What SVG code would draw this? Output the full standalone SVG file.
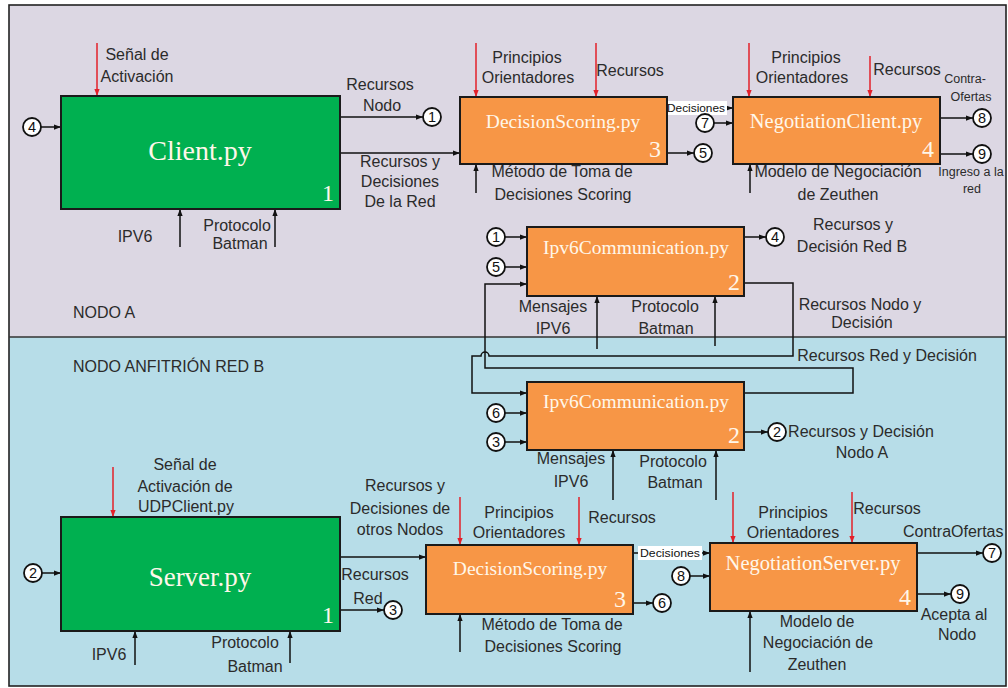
<svg xmlns="http://www.w3.org/2000/svg" width="1008" height="688" viewBox="0 0 1008 688">
  <defs>
    <style>
      .lbl { font-family: "Liberation Sans", Arial, sans-serif; font-size: 16px; fill: #2b2b2b; }
      .mid { text-anchor: middle; }
      .sm { font-size: 12.5px; }
      .title { font-family: "Liberation Serif", "Times New Roman", serif; fill: #FFF7EA; text-anchor: middle; }
      .num { font-family: "Liberation Serif", "Times New Roman", serif; font-size: 24px; fill: #FFF7EA; text-anchor: end; }
      .box { stroke: #1a1a1a; stroke-width: 2; }
      .green { fill: #00B050; }
      .orange { fill: #F79646; }
      .wire { stroke: #111; stroke-width: 1.5; fill: none; }
      .red { stroke: #E3202A; stroke-width: 1.5; fill: none; }
      .ref circle { fill: #fff; stroke: #111; stroke-width: 1.8; }
      .ref text { font-family: "Liberation Sans", Arial, sans-serif; font-size: 14.5px; fill: #111; text-anchor: middle; }
      .tag { fill: #fff; }
      .tagtxt { font-family: "Liberation Sans", Arial, sans-serif; font-size: 11px; fill: #111; }
    </style>
    <marker id="ah" viewBox="0 0 8 8" refX="8" refY="4" markerWidth="7" markerHeight="7" orient="auto" markerUnits="userSpaceOnUse">
      <path d="M0,1 L8,4 L0,7 z" fill="#111"/>
    </marker>
    <marker id="ahr" viewBox="0 0 8 8" refX="8" refY="4" markerWidth="7" markerHeight="7" orient="auto" markerUnits="userSpaceOnUse">
      <path d="M0,1 L8,4 L0,7 z" fill="#E3202A"/>
    </marker>
  </defs>

  <!-- two swimlanes -->
  <g id="lanes">
    <rect x="0" y="0" width="1008" height="688" fill="#fff"/>
    <rect x="9" y="5" width="997" height="332" fill="#DCD7E3"/>
    <rect x="9" y="337" width="997" height="349" fill="#B7DDE8"/>
    <rect x="9" y="5" width="997" height="681" fill="none" stroke="#222" stroke-width="1.6"/>
    <line x1="9" y1="337" x2="1006" y2="337" stroke="#333" stroke-width="1.6"/>
    <text class="lbl" x="73" y="318">NODO A</text>
    <text class="lbl" x="73" y="372">NODO ANFITRIÓN RED B</text>
  </g>

  <!-- connectors -->
  <g id="connectors">
    <!-- Node A -->
    <line class="red" x1="97" y1="43" x2="97" y2="96" marker-end="url(#ahr)"/>
    <line class="wire" x1="41" y1="127" x2="61" y2="127" marker-end="url(#ah)"/>
    <line class="wire" x1="340" y1="117" x2="423" y2="117" marker-end="url(#ah)"/>
    <line class="wire" x1="340" y1="153" x2="460" y2="153" marker-end="url(#ah)"/>
    <line class="wire" x1="180" y1="247" x2="180" y2="209" marker-end="url(#ah)"/>
    <line class="wire" x1="275" y1="247" x2="275" y2="209" marker-end="url(#ah)"/>
    <line class="red" x1="476" y1="43" x2="476" y2="97" marker-end="url(#ahr)"/>
    <line class="red" x1="596" y1="43" x2="596" y2="97" marker-end="url(#ahr)"/>
    <line class="wire" x1="476" y1="193" x2="476" y2="164" marker-end="url(#ah)"/>
    <line class="wire" x1="667" y1="108" x2="733" y2="108" marker-end="url(#ah)"/>
    <line class="wire" x1="714" y1="123" x2="733" y2="123" marker-end="url(#ah)"/>
    <line class="wire" x1="667" y1="153" x2="694" y2="153" marker-end="url(#ah)"/>
    <line class="red" x1="749" y1="43" x2="749" y2="97" marker-end="url(#ahr)"/>
    <line class="red" x1="870" y1="56" x2="870" y2="97" marker-end="url(#ahr)"/>
    <line class="wire" x1="940" y1="118" x2="973" y2="118" marker-end="url(#ah)"/>
    <line class="wire" x1="940" y1="154" x2="973" y2="154" marker-end="url(#ah)"/>
    <line class="wire" x1="750" y1="193" x2="750" y2="164" marker-end="url(#ah)"/>
    <line class="wire" x1="505" y1="237" x2="527" y2="237" marker-end="url(#ah)"/>
    <line class="wire" x1="505" y1="267" x2="527" y2="267" marker-end="url(#ah)"/>
    <line class="wire" x1="744" y1="237" x2="766" y2="237" marker-end="url(#ah)"/>
    <line class="wire" x1="597" y1="349" x2="597" y2="296" marker-end="url(#ah)"/>
    <line class="wire" x1="715" y1="346" x2="715" y2="296" marker-end="url(#ah)"/>

    <!-- exchange loops between both Ipv6Communication blocks -->
    <path class="wire" d="M744,283 H793 V356 H489 A4,4 0 0 0 481,356 H472 V393 H527" marker-end="url(#ah)"/>
    <path class="wire" d="M744,393 H853 V368 H485 V284 H527" marker-end="url(#ah)"/>

    <!-- Node B -->
    <line class="wire" x1="505" y1="413" x2="527" y2="413" marker-end="url(#ah)"/>
    <line class="wire" x1="505" y1="442" x2="527" y2="442" marker-end="url(#ah)"/>
    <line class="wire" x1="744" y1="432" x2="768" y2="432" marker-end="url(#ah)"/>
    <line class="wire" x1="613" y1="500" x2="613" y2="450" marker-end="url(#ah)"/>
    <line class="wire" x1="716" y1="500" x2="716" y2="450" marker-end="url(#ah)"/>
    <line class="red" x1="113" y1="467" x2="113" y2="517" marker-end="url(#ahr)"/>
    <line class="wire" x1="42" y1="573" x2="61" y2="573" marker-end="url(#ah)"/>
    <line class="wire" x1="340" y1="557" x2="426" y2="557" marker-end="url(#ah)"/>
    <line class="wire" x1="340" y1="610" x2="384" y2="610" marker-end="url(#ah)"/>
    <line class="wire" x1="135" y1="665" x2="135" y2="631" marker-end="url(#ah)"/>
    <line class="wire" x1="290" y1="663" x2="290" y2="631" marker-end="url(#ah)"/>
    <line class="red" x1="460" y1="497" x2="460" y2="545" marker-end="url(#ahr)"/>
    <line class="red" x1="579" y1="497" x2="579" y2="545" marker-end="url(#ahr)"/>
    <line class="wire" x1="633" y1="553" x2="710" y2="553" marker-end="url(#ah)"/>
    <line class="wire" x1="690" y1="576" x2="710" y2="576" marker-end="url(#ah)"/>
    <line class="wire" x1="633" y1="603" x2="653" y2="603" marker-end="url(#ah)"/>
    <line class="wire" x1="460" y1="652" x2="460" y2="614" marker-end="url(#ah)"/>
    <line class="red" x1="733" y1="492" x2="733" y2="543" marker-end="url(#ahr)"/>
    <line class="red" x1="852" y1="492" x2="852" y2="543" marker-end="url(#ahr)"/>
    <line class="wire" x1="917" y1="553" x2="983" y2="553" marker-end="url(#ah)"/>
    <line class="wire" x1="917" y1="594" x2="951" y2="594" marker-end="url(#ah)"/>
    <line class="wire" x1="750" y1="672" x2="750" y2="611" marker-end="url(#ah)"/>

    <!-- "Decisiones" tags sitting on their arrows -->
    <rect class="tag" x="665" y="101" width="62" height="14"/>
    <text class="tagtxt" x="667" y="112" textLength="58" lengthAdjust="spacingAndGlyphs">Decisiones</text>
    <rect class="tag" x="638" y="546" width="64" height="14"/>
    <text class="tagtxt" x="640" y="557" textLength="60" lengthAdjust="spacingAndGlyphs">Decisiones</text>
  </g>

  <!-- off-page reference circles -->
  <g id="refs" class="ref">
    <g id="ref-a4"><circle cx="32" cy="127" r="9"/><text x="32" y="132">4</text></g>
    <g id="ref-a1"><circle cx="432" cy="117" r="9"/><text x="432" y="122">1</text></g>
    <g id="ref-a7"><circle cx="705" cy="123" r="9"/><text x="705" y="128">7</text></g>
    <g id="ref-a5"><circle cx="703" cy="153" r="9"/><text x="703" y="158">5</text></g>
    <g id="ref-a8"><circle cx="982" cy="118" r="9"/><text x="982" y="123">8</text></g>
    <g id="ref-a9"><circle cx="982" cy="154" r="9"/><text x="982" y="159">9</text></g>
    <g id="ref-a1b"><circle cx="496" cy="237" r="9"/><text x="496" y="242">1</text></g>
    <g id="ref-a5b"><circle cx="496" cy="267" r="9"/><text x="496" y="272">5</text></g>
    <g id="ref-a4b"><circle cx="775" cy="237" r="9"/><text x="775" y="242">4</text></g>
    <g id="ref-b6"><circle cx="496" cy="413" r="9"/><text x="496" y="418">6</text></g>
    <g id="ref-b3"><circle cx="496" cy="442" r="9"/><text x="496" y="447">3</text></g>
    <g id="ref-b2"><circle cx="777" cy="432" r="9"/><text x="777" y="437">2</text></g>
    <g id="ref-b2b"><circle cx="33" cy="573" r="9"/><text x="33" y="578">2</text></g>
    <g id="ref-b3b"><circle cx="393" cy="610" r="9"/><text x="393" y="615">3</text></g>
    <g id="ref-b8"><circle cx="681" cy="576" r="9"/><text x="681" y="581">8</text></g>
    <g id="ref-b6b"><circle cx="662" cy="603" r="9"/><text x="662" y="608">6</text></g>
    <g id="ref-b7"><circle cx="992" cy="553" r="9"/><text x="992" y="558">7</text></g>
    <g id="ref-b9"><circle cx="960" cy="594" r="9"/><text x="960" y="599">9</text></g>
  </g>

  <!-- Node A blocks -->
  <g id="client">
    <rect class="box green" x="61" y="96" width="279" height="113"/>
    <text class="title" x="200" y="160" font-size="28">Client.py</text>
    <text class="num" x="334" y="201">1</text>
  </g>
  <g id="decision-scoring-a">
    <rect class="box orange" x="460" y="97" width="207" height="67"/>
    <text class="title" x="563" y="128" font-size="19.5">DecisionScoring.py</text>
    <text class="num" x="661" y="157">3</text>
  </g>
  <g id="negotiation-client">
    <rect class="box orange" x="733" y="97" width="207" height="67"/>
    <text class="title" x="836" y="128" font-size="20.5">NegotiationClient.py</text>
    <text class="num" x="934" y="157">4</text>
  </g>
  <g id="ipv6-a">
    <rect class="box orange" x="527" y="227" width="217" height="69"/>
    <text class="title" x="636" y="254" font-size="19.5">Ipv6Communication.py</text>
    <text class="num" x="740" y="290">2</text>
  </g>

  <!-- Node B blocks -->
  <g id="ipv6-b">
    <rect class="box orange" x="527" y="382" width="217" height="68"/>
    <text class="title" x="636" y="408" font-size="19.5">Ipv6Communication.py</text>
    <text class="num" x="740" y="443">2</text>
  </g>
  <g id="server">
    <rect class="box green" x="61" y="517" width="279" height="114"/>
    <text class="title" x="200" y="586" font-size="27">Server.py</text>
    <text class="num" x="334" y="623">1</text>
  </g>
  <g id="decision-scoring-b">
    <rect class="box orange" x="426" y="545" width="207" height="69"/>
    <text class="title" x="530" y="575" font-size="19.5">DecisionScoring.py</text>
    <text class="num" x="626" y="607">3</text>
  </g>
  <g id="negotiation-server">
    <rect class="box orange" x="710" y="543" width="207" height="68"/>
    <text class="title" x="813" y="570" font-size="20.5">NegotiationServer.py</text>
    <text class="num" x="911" y="605">4</text>
  </g>

  <!-- labels -->
  <g id="labels" class="lbl">
    <!-- Node A -->
    <text class="mid" x="137" y="60">Señal de</text>
    <text class="mid" x="137" y="82">Activación</text>
    <text class="mid" x="380" y="90">Recursos</text>
    <text class="mid" x="382" y="111">Nodo</text>
    <text class="mid" x="400" y="167">Recursos y</text>
    <text class="mid" x="400" y="187">Decisiones</text>
    <text class="mid" x="400" y="207">De la Red</text>
    <text class="mid" x="135" y="242">IPV6</text>
    <text class="mid" x="237" y="231">Protocolo</text>
    <text class="mid" x="240" y="249">Batman</text>
    <text class="mid" x="527" y="63">Principios</text>
    <text class="mid" x="528" y="83">Orientadores</text>
    <text class="mid" x="630" y="76">Recursos</text>
    <text class="mid" x="562" y="177">Método de Toma de</text>
    <text class="mid" x="563" y="200">Decisiones Scoring</text>
    <text class="mid" x="806" y="63">Principios</text>
    <text class="mid" x="802" y="83">Orientadores</text>
    <text class="mid" x="907" y="75">Recursos</text>
    <text class="mid sm" x="965" y="83">Contra-</text>
    <text class="mid sm" x="971" y="101">Ofertas</text>
    <text class="mid sm" x="971" y="176">Ingreso a la</text>
    <text class="mid sm" x="972" y="193">red</text>
    <text class="mid" x="838" y="177">Modelo de Negociación</text>
    <text class="mid" x="838" y="200">de Zeuthen</text>
    <text class="mid" x="853" y="230">Recursos y</text>
    <text class="mid" x="852" y="252">Decisión Red B</text>
    <text class="mid" x="860" y="310">Recursos Nodo y</text>
    <text class="mid" x="862" y="328">Decisión</text>
    <text class="mid" x="553" y="312">Mensajes</text>
    <text class="mid" x="553" y="334">IPV6</text>
    <text class="mid" x="665" y="312">Protocolo</text>
    <text class="mid" x="666" y="334">Batman</text>
    <!-- Node B -->
    <text class="mid" x="887" y="361">Recursos Red y Decisión</text>
    <text class="mid" x="861" y="437">Recursos y Decisión</text>
    <text class="mid" x="862" y="458">Nodo A</text>
    <text class="mid" x="571" y="464">Mensajes</text>
    <text class="mid" x="571" y="487">IPV6</text>
    <text class="mid" x="673" y="467">Protocolo</text>
    <text class="mid" x="675" y="488">Batman</text>
    <text class="mid" x="185" y="470">Señal de</text>
    <text class="mid" x="185" y="492">Activación de</text>
    <text class="mid" x="186" y="512">UDPClient.py</text>
    <text class="mid" x="405" y="491">Recursos y</text>
    <text class="mid" x="400" y="514">Decisiones de</text>
    <text class="mid" x="400" y="535">otros Nodos</text>
    <text class="mid" x="375" y="580">Recursos</text>
    <text class="mid" x="368" y="604">Red</text>
    <text class="mid" x="109" y="660">IPV6</text>
    <text class="mid" x="245" y="648">Protocolo</text>
    <text class="mid" x="255" y="672">Batman</text>
    <text class="mid" x="519" y="518">Principios</text>
    <text class="mid" x="519" y="538">Orientadores</text>
    <text class="mid" x="622" y="523">Recursos</text>
    <text class="mid" x="552" y="630">Método de Toma de</text>
    <text class="mid" x="553" y="652">Decisiones Scoring</text>
    <text class="mid" x="793" y="518">Principios</text>
    <text class="mid" x="793" y="538">Orientadores</text>
    <text class="mid" x="887" y="514">Recursos</text>
    <text x="903" y="537">ContraOfertas</text>
    <text class="mid" x="954" y="620">Acepta al</text>
    <text class="mid" x="957" y="640">Nodo</text>
    <text class="mid" x="817" y="627">Modelo de</text>
    <text class="mid" x="818" y="648">Negociación de</text>
    <text class="mid" x="817" y="670">Zeuthen</text>
  </g>
</svg>
